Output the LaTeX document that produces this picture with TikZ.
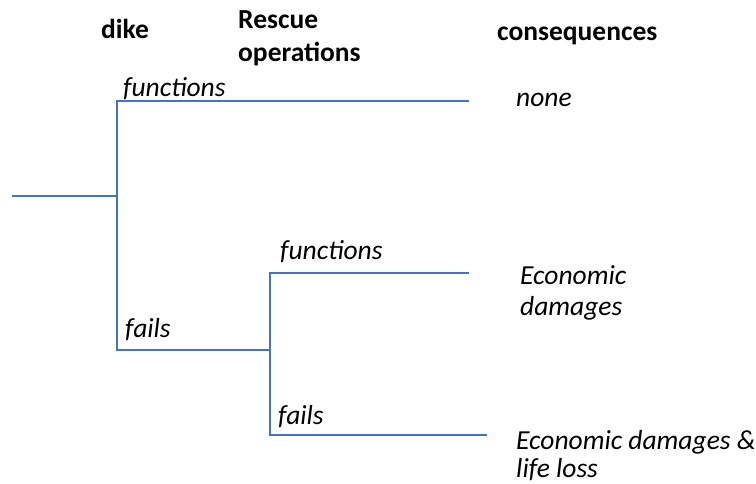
\documentclass[tikz,border=0pt]{standalone}
\usepackage{fontspec}
\setmainfont{Carlito}
\definecolor{treeblue}{RGB}{68,114,196}

\begin{document}
\begin{tikzpicture}[x=1pt,y=-1pt,
    branch/.style={draw=treeblue, line width=1.1pt},
    head/.style={font=\fontsize{27.5}{33}\selectfont\bfseries, inner sep=0pt, anchor=base west, align=left},
    choice/.style={font=\fontsize{27.5}{32}\selectfont\itshape, inner sep=0pt, anchor=base west, align=left}]
    \useasboundingbox (0,0) rectangle (756,484);

    % --- column titles ---
    \node[head] (dike) at (101,39) {dike};
    \node[head] (rescue) at (238,62) {Rescue\\operations};
    \node[head] (cons) at (497,41) {consequences};

    % --- points of the tree ---
    \coordinate (root) at (12,196);
    \coordinate (dk) at (117,196);
    \coordinate (dkup) at (117,101);
    \coordinate (dkdn) at (117,350);
    \coordinate (rs) at (270,350);
    \coordinate (rsup) at (270,273);
    \coordinate (rsdn) at (270,435);
    \coordinate (endnone) at (469,101);
    \coordinate (endeco) at (469,273);
    \coordinate (endlife) at (487,435);

    % --- branches ---
    \draw[branch] (root) -- (dk);
    \draw[branch] (endnone) -- (dkup) -- (dkdn) -- (rs);
    \draw[branch] (endeco) -- (rsup) -- (rsdn) -- (endlife);

    % --- labels on the branches ---
    \node[choice] (dkok) at (123,97) {functions};
    \node[choice] (dkfail) at (125,337) {fails};
    \node[choice] (rsok) at (280,259) {functions};
    \node[choice] (rsfail) at (278,424) {fails};

    % --- outcomes ---
    \node[choice] (none) at (516,107) {none};
    \node[choice] (eco) at (520,316) {Economic\\damages};
    \node[choice, font=\fontsize{27.5}{28}\selectfont\itshape] (life) at (516,477) {Economic damages \&\\life loss};
\end{tikzpicture}
\end{document}
